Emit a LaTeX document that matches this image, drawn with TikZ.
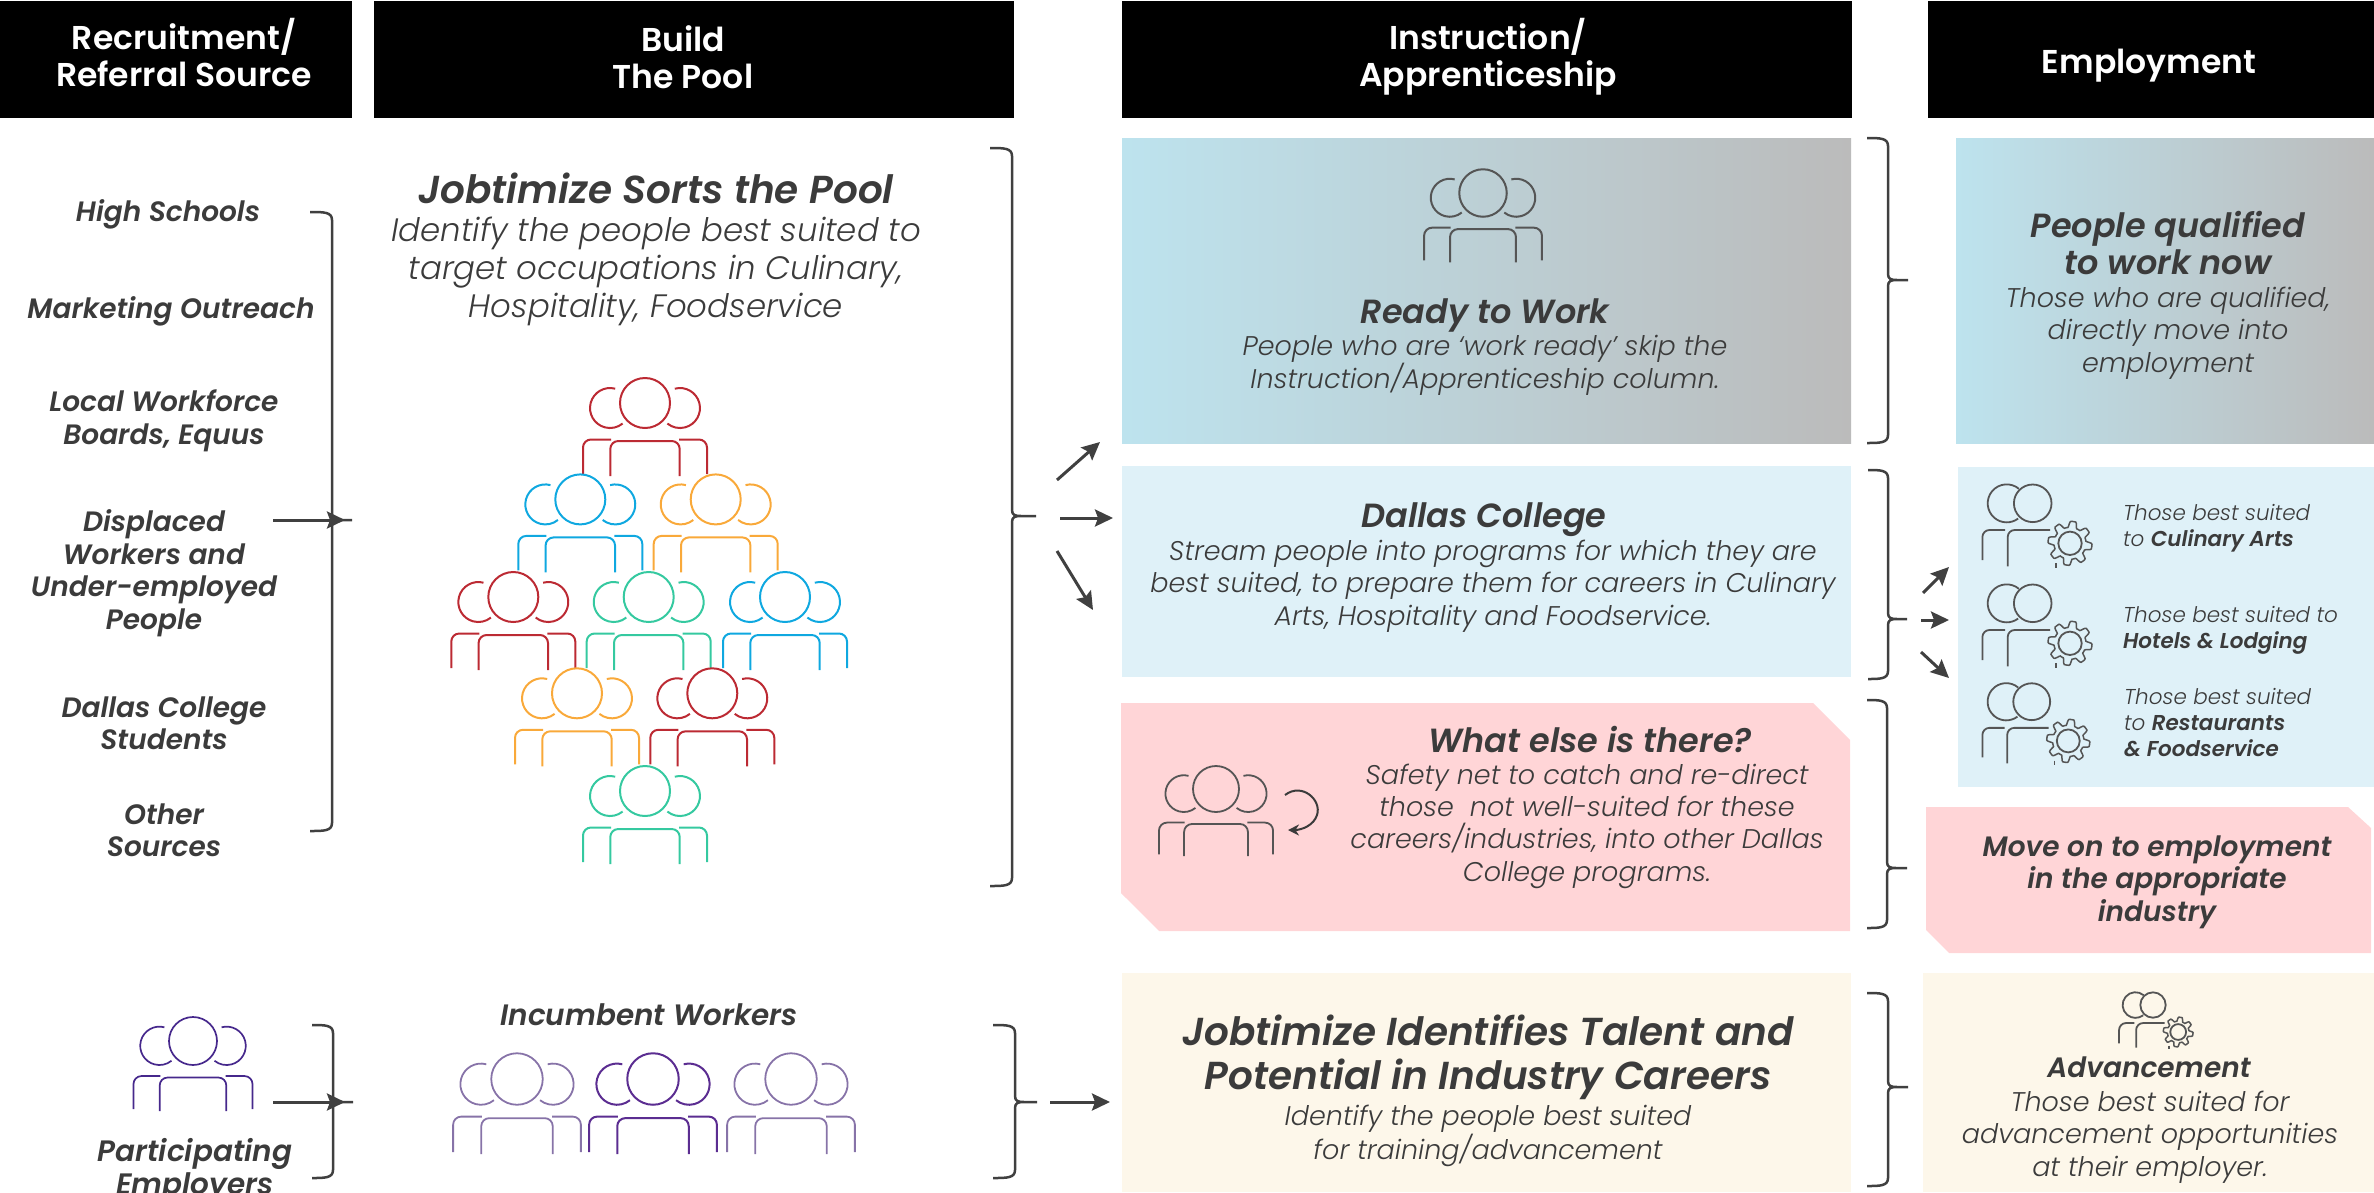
\documentclass[tikz,border=0pt]{standalone}
\usepackage{fontspec}
\setmainfont{Poppins}
\newfontfamily\pbold{Poppins SemiBold}[ItalicFont={Poppins SemiBold Italic}]
\newfontfamily\plight{Poppins Light}[ItalicFont={Poppins Light Italic}]
\usetikzlibrary{arrows.meta}
\definecolor{tx}{HTML}{3B3B3B}
\definecolor{dk}{HTML}{404040}
\definecolor{cred}{HTML}{BC2A33}
\definecolor{cblue}{HTML}{0FA8E0}
\definecolor{corange}{HTML}{F9A93A}
\definecolor{cgreen}{HTML}{35C9A0}
\definecolor{cpurp}{HTML}{46288C}
\definecolor{cpurpb}{HTML}{5B2D91}
\definecolor{cpurpl}{HTML}{8773A8}
\definecolor{icon}{HTML}{555555}
\definecolor{gradl}{HTML}{BDE3EE}
\definecolor{gradr}{HTML}{BBBBBB}
\definecolor{paleblue}{HTML}{DFF1F8}
\definecolor{palepink}{HTML}{FFD5D7}
\definecolor{palecream}{HTML}{FDF7EA}
\newcommand\fsz[2]{\fontsize{#1}{#2}\selectfont}
\newcommand\tstrut{\rule[-.2em]{0pt}{1.1em}}
\tikzset{
 txt/.style={text=tx,align=center,inner sep=0,outer sep=0,anchor=center,
   execute at begin node=\tstrut,execute at end node=\tstrut},
 hdrtext/.style={txt,text=white,font=\pbold\fsz{33}{37}},
 lab/.style={txt,font=\pbold\itshape\fsz{28}{32.5}},
 labb/.style={txt,font=\pbold\itshape\fsz{29.5}{33}},
 body/.style={txt,font=\plight\itshape\fsz{27}{32.3}},
 head/.style={txt,font=\pbold\itshape\fsz{33.5}{37}},
 big/.style={txt,font=\pbold\itshape\fsz{39}{44}},
 small/.style={txt,align=left,anchor=west,font=\plight\itshape\fsz{21.5}{26}},
 hdrbox/.style={fill=black,inner sep=0,outer sep=0,anchor=north west},
 panel/.style={inner sep=0,outer sep=0,anchor=north west},
 grad/.style={panel,left color=gradl,right color=gradr},
 brc/.style={draw=dk,line width=2.5pt},
 arr/.style={draw=dk,line width=3pt,-{Stealth[length=18pt,width=17pt,inset=3pt]}},
}
\newcommand\panelbox[6]{\node[#1,minimum width=#5-#3,minimum height=#6-#4] (#2) at (#3,#4) {};}
% name, xleft, xspine, xtip, ytop, ymid, ybottom
\newcommand\bracemark[7]{%
 \draw[brc] (#2,#5) .. controls (#3-8,#5) and (#3,#5) .. (#3,#5+8) -- (#3,#6-6)
   .. controls (#3,#6-1) and (#3+3,#6) .. (#3+9,#6) -- (#4,#6) -- (#3+9,#6)
   .. controls (#3+3,#6) and (#3,#6+1) .. (#3,#6+6) -- (#3,#7-8)
   .. controls (#3,#7) and (#3-8,#7) .. (#2,#7);
 \coordinate (#1) at (#4,#6);}
% x, y, scale, colour, width
\newcommand\person[5]{%
 \begin{scope}[shift={(#1,#2)},scale=#3,draw=#4,line width=#5pt]
  \draw (0,0) circle[radius=25];
  \draw (-29.8,-14.3) arc[start angle=285,end angle=51,radius=20];
  \draw (29.8,-14.3) arc[start angle=-105,end angle=129,radius=20];
  \draw[rounded corners=8pt] (-62,71) -- (-62,36.5) -- (-34,36.5);
  \draw[rounded corners=8pt] (62,71) -- (62,36.5) -- (34,36.5);
  \draw[rounded corners=8pt] (-34.7,73) -- (-34.7,38) -- (34.7,38) -- (34.7,73);
 \end{scope}}
\newcommand\gearman[3]{%
 \begin{scope}[shift={(#1,#2)},scale=#3,draw=icon,line width=1.8pt]
  \draw (0,0) circle[radius=18.8];
  \draw (-13.8,-14.5) arc[start angle=-50,end angle=-307,radius=19];
  \draw[rounded corners=7pt] (-50.3,56.7) -- (-50.3,26.7) -- (-27.7,26.7);
  \draw[rounded corners=7pt] (-25,63) -- (-25,26.7) -- (17.3,26.7);
  \draw[shift={(37.3,40)},line width=1.5pt] plot[domain=0:360,samples=145] (\x:{19+3*max(-1,min(1,2*sin(8*\x+22)))}) -- cycle;
  \draw (37.3,40) circle[radius=11.7];
  \draw (23.3,60) -- (23.3,65);
 \end{scope}}
\begin{document}
\begin{tikzpicture}[x=1pt,y=1pt,yscale=-1]
\useasboundingbox (0,0) rectangle (2374,1192);
% headers
\panelbox{hdrbox}{h1}{0}{1}{352}{118}
\panelbox{hdrbox}{h2}{374}{1}{1014}{118}
\panelbox{hdrbox}{h3}{1122}{1}{1852}{118}
\panelbox{hdrbox}{h4}{1928}{1}{2374}{118}
\node[hdrtext] (t1) at (184,56) {Recruitment/\\Referral Source};
\node[hdrtext] (t2) at (683,60) {Build\\The Pool};
\node[hdrtext] (t3) at (1488,57) {Instruction/\\Apprenticeship};
\node[hdrtext] (t4) at (2149,63) {Employment};
% panels
\panelbox{grad}{ready}{1122}{138}{1851}{443}
\panelbox{panel,fill=paleblue}{dallas}{1122}{466}{1851}{677}
\panelbox{panel,fill=palecream}{incum}{1122}{973}{1851}{1192}
\panelbox{grad}{qual}{1956}{138}{2374}{443}
\panelbox{panel,fill=paleblue}{suited}{1958}{467}{2374}{787}
\panelbox{panel,fill=palecream}{adv}{1923}{973}{2374}{1192}
\fill[palepink] (1121,703) -- (1813,703) -- (1850,740) -- (1850,931) -- (1159,931) -- (1121,893) -- cycle;
\fill[palepink] (1926,807) -- (2348,807) -- (2371,828) -- (2371,953) -- (1949,953) -- (1926,930) -- cycle;
% left column
\node[lab] (l1) at (168,212.5) {High Schools};
\node[lab] (l2) at (171,309.5) {Marketing Outreach};
\node[lab] (l3) at (164,421) {Local Workforce\\Boards, Equus};
\node[lab] (l4) at (154,573) {Displaced\\Workers and\\Under-employed\\People};
\node[lab] (l5) at (164,726) {Dallas College\\Students};
\node[lab] (l6) at (164,833) {Other\\Sources};
\node[labb] (l7) at (195,1170) {Participating\\Employers};
% build the pool
\node[big] (p1) at (656,189.5) {Jobtimize Sorts the Pool};
\node[txt,font=\plight\itshape\fsz{32.4}{38}] (p2) at (656,271) {Identify the people best suited to\\target occupations in Culinary,\\Hospitality, Foodservice};
\person{645}{403}{1}{cred}{2}
\person{580.3}{499.4}{1}{cblue}{2}
\person{715.7}{499.4}{1}{corange}{2}
\person{513.3}{597}{1}{cred}{2}
\person{648.7}{597}{1}{cgreen}{2}
\person{785}{597}{1}{cblue}{2}
\person{577}{693.3}{1}{corange}{2}
\person{712.3}{693.3}{1}{cred}{2}
\person{645}{791}{1}{cgreen}{2}
\node[labb] (iw) at (649,1015) {Incumbent Workers};
\person{193}{1041}{.96}{cpurp}{1.7}
\person{517}{1079}{1.03}{cpurpl}{1.8}
\person{791}{1079}{1.03}{cpurpl}{1.8}
\person{653}{1079}{1.03}{cpurpb}{2}
% instruction
\person{1483}{193}{.95}{icon}{2}
\node[head] (r1) at (1485,313) {Ready to Work};
\node[body] (r2) at (1485,365) {People who are ‘work ready’ skip the\\Instruction/Apprenticeship column.};
\node[head] (d1) at (1484,516.5) {Dallas College};
\node[body] (d2) at (1493,586) {Stream people into programs for which they are\\best suited, to prepare them for careers in Culinary\\Arts, Hospitality and Foodservice.};
\person{1216}{789}{.92}{icon}{1.8}
\coordinate (loopa) at (1285,795);
\coordinate (loopb) at (1288,830);
\draw[draw=tx,line width=2pt,-{Stealth[length=11pt,width=11pt]}] (loopa) .. controls (1302,782) and (1322,800) .. (1317,815) .. controls (1314,825) and (1302,830) .. (loopb);
\node[head] (w1) at (1590,740.5) {What else is there?};
\node[body] (w2) at (1587,826) {Safety net to catch and re-direct\\those\ \ not well-suited for these\\careers/industries, into other Dallas\\College programs.};
\node[big] (j1) at (1488,1057.5) {Jobtimize Identifies Talent and\\Potential in Industry Careers};
\node[body] (j2) at (1488,1136) {Identify the people best suited\\for training/advancement};
% employment
\node[head] (q1) at (2168,246) {People qualified\\to work now};
\node[body] (q2) at (2168,333) {Those who are qualified,\\directly move into\\employment};
\gearman{2032.7}{503.3}{1}
\gearman{2032.7}{603.3}{1}
\gearman{2031.7}{701.7}{.98}
\node[small] (s1) at (2123,528.5) {Those best suited\\to {\pbold\itshape Culinary Arts}};
\node[small] (s2) at (2123,630.5) {Those best suited to\\{\pbold\itshape Hotels \& Lodging}};
\node[small] (s3) at (2124,725) {Those best suited\\to {\pbold\itshape Restaurants}\\{\pbold\itshape \& Foodservice}};
\node[lab] (m1) at (2157,882) {Move on to employment\\in the appropriate\\industry};
\gearman{2153}{1005}{.675}
\node[lab] (a1) at (2149,1068) {Advancement};
\node[body] (a2) at (2150,1137) {Those best suited for\\advancement opportunities\\at their employer.};
% braces
\bracemark{b1}{310}{332}{352}{212}{520}{831}
\bracemark{b2}{990}{1012}{1036}{148}{516}{886}
\bracemark{b3}{1867}{1888}{1908}{138}{280}{443}
\bracemark{b4}{1868}{1888}{1907}{470}{619}{679}
\bracemark{b5}{1867}{1887}{1907}{700}{868}{928}
\bracemark{b6}{1867}{1888}{1908}{993}{1087}{1186}
\bracemark{b7}{312}{333}{353}{1025}{1102}{1178}
\bracemark{b8}{993}{1015}{1037}{1025}{1102}{1178}
% arrows
\coordinate (a1s) at (273,520); \coordinate (a1e) at (345,520);
\draw[arr] (a1s) -- (a1e);
\coordinate (a7s) at (273,1102); \coordinate (a7e) at (345,1102);
\draw[arr] (a7s) -- (a7e);
\coordinate (u1) at (1057,480); \coordinate (u2) at (1100,442);
\coordinate (v1) at (1060,518); \coordinate (v2) at (1113,518);
\coordinate (w3) at (1057,551); \coordinate (w4) at (1093,610);
\draw[arr] (u1) -- (u2); \draw[arr] (v1) -- (v2); \draw[arr] (w3) -- (w4);
\coordinate (x1) at (1050,1102); \coordinate (x2) at (1110,1102);
\draw[arr] (x1) -- (x2);
\coordinate (y1) at (1923,593); \coordinate (y2) at (1949,567);
\coordinate (y3) at (1921,620); \coordinate (y4) at (1949,620);
\coordinate (y5) at (1921,652); \coordinate (y6) at (1949,678);
\draw[arr] (y1) -- (y2); \draw[arr] (y3) -- (y4); \draw[arr] (y5) -- (y6);
\end{tikzpicture}
\end{document}
